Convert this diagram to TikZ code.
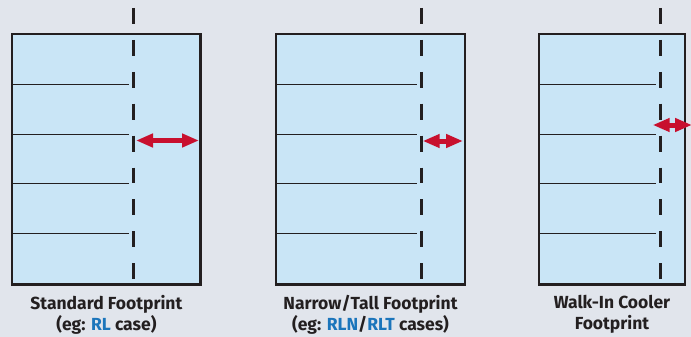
\documentclass[tikz,border=0pt]{standalone}
\usepackage{fontspec}
\setmainfont{Fira Sans}
\usetikzlibrary{positioning,arrows.meta}
\definecolor{bgwash}{HTML}{E1E5EC}
\definecolor{cooler}{HTML}{C9E5F6}
\definecolor{ink}{HTML}{231F20}
\definecolor{gapred}{HTML}{C8102E}
\definecolor{caseblue}{HTML}{1B75BB}
\begin{document}
\begin{tikzpicture}[x=1pt, y=-1pt,
        >={Triangle[length=17pt, width=13pt]},
        footprint/.style={rectangle, draw=ink, line width=2.3pt, fill=cooler, inner sep=0pt, minimum height=250.5pt},
        caption/.style={below=9pt of #1, align=center, inner sep=0pt, text=ink, font=\fontsize{17.5}{21.5}\selectfont\bfseries},
        aisle/.style={draw=ink, line width=3pt, dash pattern=on 15.9pt off 16pt},
        shelf/.style={draw=ink, line width=1pt},
        gap/.style={<->, draw=gapred, fill=gapred, line width=5pt}]
        \useasboundingbox[fill=bgwash] (0,0) rectangle (691,337);

        %draw footprints by coordinates
        \node[footprint, minimum width=188.4pt] (std) at (106.4,159.3) {};
        \node[footprint, minimum width=188.7pt] (narrow) at (370.5,159.3) {};
        \node[footprint, minimum width=145.6pt] (walkin) at (612,159.3) {};

        % captions
        \node[caption=std] (stdtext) {Standard Footprint\\(eg: \textcolor{caseblue}{RL} case)};
        \node[caption=narrow] (narrowtext) {Narrow/Tall Footprint\\(eg: \textcolor{caseblue}{RLN}/\textcolor{caseblue}{RLT} cases)};
        \node[caption=walkin] (walkintext) {Walk-In Cooler\\Footprint};

        % aisle and gap end points
        \coordinate (stdtop) at (133,8);
        \coordinate (stdbot) at (133,279);
        \coordinate (narrowtop) at (421,8);
        \coordinate (narrowbot) at (421,279);
        \coordinate (walkintop) at (660,8);
        \coordinate (walkinbot) at (660,279);
        \coordinate (stdgapl) at (136,140.5);
        \coordinate (stdgapr) at (199,140.5);
        \coordinate (narrowgapl) at (422.7,141);
        \coordinate (narrowgapr) at (463,141);
        \coordinate (walkingapl) at (652.7,125);
        \coordinate (walkingapr) at (692,125);

        % Draw shelves
        \foreach \y in {84.5,134.5,183.5,233.5} {
            \draw[shelf] (std.west |- 0,\y) -- (129,\y);
            \draw[shelf] (narrow.west |- 0,\y) -- (416.7,\y);
            \draw[shelf] (walkin.west |- 0,\y) -- (656,\y);
        }

        % Draw aisles
        \draw[aisle] (stdtop) -- (stdbot);
        \draw[aisle] (narrowtop) -- (narrowbot);
        \draw[aisle] (walkintop) -- (walkinbot);

        % Draw gaps
        \draw[gap] (stdgapl) -- (stdgapr);
        \draw[gap] (narrowgapl) -- (narrowgapr);
        \draw[gap] (walkingapl) -- (walkingapr);
    \end{tikzpicture}
\end{document}
